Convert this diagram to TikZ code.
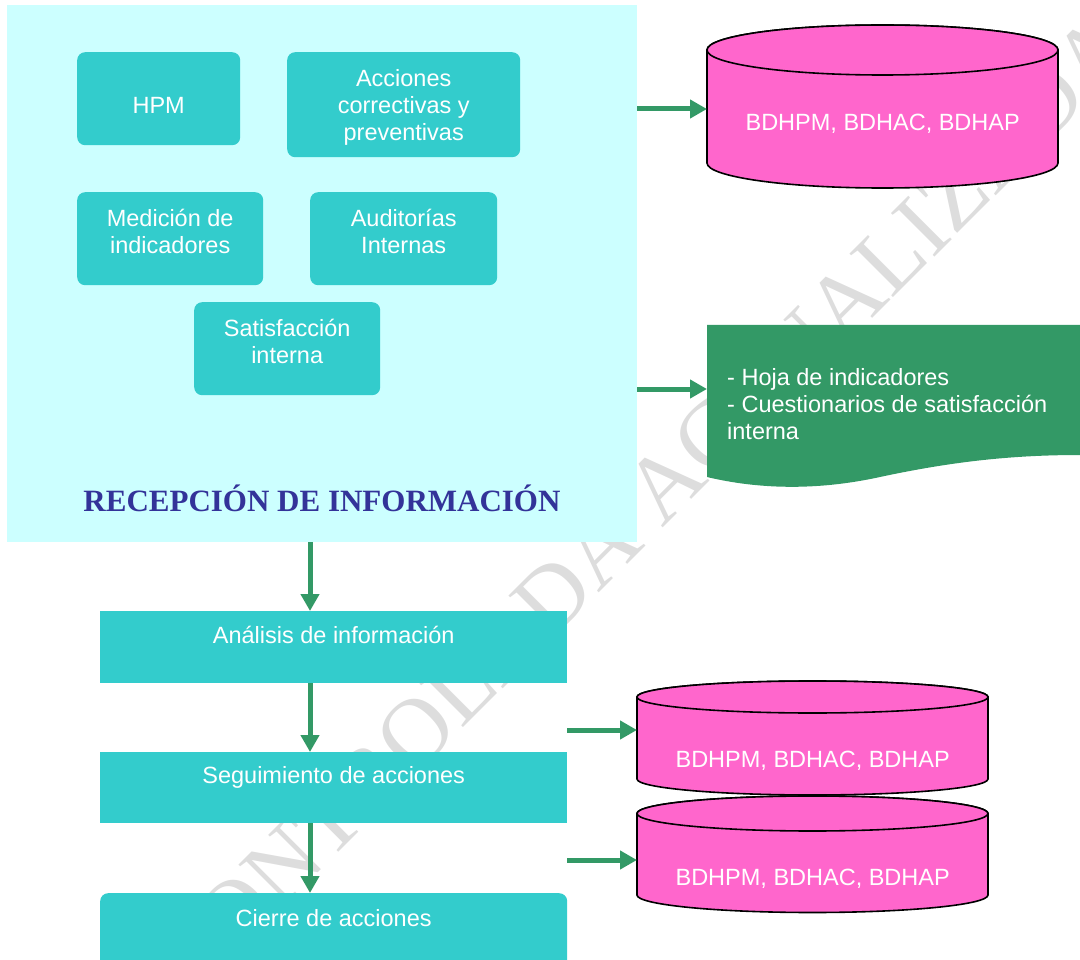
\documentclass[tikz,border=0pt]{standalone}
\usepackage{fontspec}
\setmainfont{Liberation Sans}
\newfontfamily\titlefont{Liberation Serif}
\newfontfamily\markfont{Liberation Serif}
\usetikzlibrary{arrows.meta}

\definecolor{panelbg}{HTML}{CCFFFF}
\definecolor{boxteal}{HTML}{33CCCC}
\definecolor{docgreen}{HTML}{339966}
\definecolor{dbpink}{HTML}{FF66CC}
\definecolor{titleblue}{HTML}{333399}
\definecolor{markgray}{HTML}{DDDDDD}

% cylinder body: #1 left x, #2 right x, #3 top ellipse centre y, #4 bottom ellipse centre y, #5 y radius
\newcommand{\dbdrum}[5]{%
  \pgfmathsetmacro\drumrx{(#2-#1)/2}%
  \pgfmathsetmacro\drumcx{(#2+#1)/2}%
  \filldraw[drumline] (#1,#3) -- (#1,#4)
    arc[start angle=180,end angle=360,x radius=\drumrx,y radius=#5]
    -- (#2,#3)
    arc[start angle=0,end angle=180,x radius=\drumrx,y radius=#5] -- cycle;
  \draw[drumline] (\drumcx,#3) ellipse[x radius=\drumrx,y radius=#5];
}

\tikzset{
  basefont/.style={font=\fontsize{23.5}{27}\selectfont},
  tile/.style={basefont, fill=boxteal, text=white, rounded corners=8pt,
    inner sep=0pt, align=center, anchor=north west},
  twoline/.style={tile, minimum height=93pt, text height=61.4pt, text depth=31.6pt},
  stage/.style={basefont, fill=boxteal, text=white, inner sep=0pt,
    anchor=north west, minimum width=467pt},
  drumline/.style={fill=dbpink, draw=black, line width=1.6pt},
  drumtext/.style={basefont, text=white, inner sep=0pt, anchor=north west,
    minimum width=351pt},
  flow/.style={draw=docgreen, line width=5pt,
    -{Triangle[length=17pt,width=18pt]}},
}

\begin{document}
\begin{tikzpicture}[x=1pt,y=1pt]
\useasboundingbox (0,0) rectangle (1080,-960);

% watermark behind everything
\node[text=markgray, rotate=45, inner sep=0pt,
  font=\markfont\fontsize{94}{94}\selectfont] (mark) at (642,-506)
  {CONTROLADA ACTUALIZADA};

% information reception panel
\node[fill=panelbg, inner sep=0pt, minimum width=630pt, minimum height=537pt,
  anchor=north west] (recep) at (7,-5) {};

\node[tile, minimum width=163pt, minimum height=93pt, text height=60.9pt,
  text depth=32.1pt] (hpm) at (77,-52) {HPM};
\node[tile, minimum width=233pt, minimum height=105pt, text height=88.4pt,
  text depth=16.6pt] (acc) at (287,-52) {Acciones\\correctivas y\\preventivas};
\node[twoline, minimum width=186pt] (med) at (77,-192) {Medición de\\indicadores};
\node[twoline, minimum width=187pt] (aud) at (310,-192) {Auditorías\\Internas};
\node[twoline, minimum width=186pt] (sat) at (194,-302) {Satisfacción\\interna};

\node[text=titleblue, inner sep=0pt,
  font=\titlefont\bfseries\fontsize{31}{31}\selectfont] (title) at (322,-498)
  {RECEPCIÓN DE INFORMACIÓN};

% process stages
\node[stage, text height=32.4pt, text depth=39.6pt] (ana) at (100,-611)
  {Análisis de información};
\node[stage, text height=31.4pt, text depth=39.6pt] (seg) at (100,-752)
  {Seguimiento de acciones};
\node[stage, rounded corners=8pt, text height=33.4pt, text depth=48.6pt] (cie)
  at (100,-893) {Cierre de acciones};

% data stores
\dbdrum{707}{1058}{-50}{-163}{25}
\node[drumtext, text height=80.4pt, text depth=57.6pt] (db1) at (707,-50)
  {BDHPM, BDHAC, BDHAP};
\dbdrum{637}{988}{-697}{-779}{16}
\node[drumtext, text height=70.4pt, text depth=27.6pt] (db2) at (637,-697)
  {BDHPM, BDHAC, BDHAP};
\dbdrum{637}{988}{-813.5}{-895}{17.5}
\node[drumtext, text height=71.9pt, text depth=27.1pt] (db3) at (637,-813.5)
  {BDHPM, BDHAC, BDHAP};

% document shape with wavy lower edge
\fill[docgreen] (707,-325) -- (1090,-325) -- (1090,-455) -- (1080,-455)
  .. controls (1010,-455) and (950,-462) .. (880,-477)
  .. controls (830,-488) and (770,-492) .. (707,-477) -- cycle;
\node[basefont, text=white, inner xsep=20pt, inner ysep=0pt, align=left,
  anchor=north west, text height=114.4pt, text depth=35.6pt]
  (doc) at (707,-325)
  {- Hoja de indicadores\\- Cuestionarios de satisfacción\\interna};

% connector guides
\coordinate (spine) at (310,0);
\coordinate (lvl1) at (0,-109);
\coordinate (lvl2) at (0,-389);
\coordinate (lvl3) at (0,-730);
\coordinate (lvl4) at (0,-860);

\draw[flow] (recep.east |- lvl1) -- (db1.west |- lvl1);
\draw[flow] (recep.east |- lvl2) -- (doc.west |- lvl2);
\draw[flow] (recep.south -| spine) -- (ana.north -| spine);
\draw[flow] (ana.south -| spine) -- (seg.north -| spine);
\draw[flow] (seg.south -| spine) -- (cie.north -| spine);
\draw[flow] (seg.east |- lvl3) -- (db2.west |- lvl3);
\draw[flow] (seg.east |- lvl4) -- (db3.west |- lvl4);
\end{tikzpicture}
\end{document}
